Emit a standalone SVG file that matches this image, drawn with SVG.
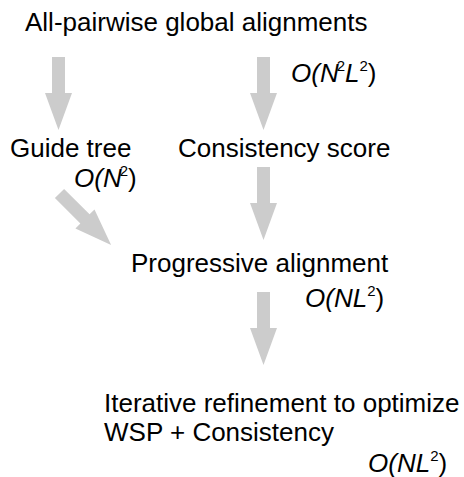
<svg xmlns="http://www.w3.org/2000/svg" width="464" height="477" viewBox="0 0 464 477">
<defs>
<style>
.t{font-family:"Liberation Sans",Arial,Helvetica,sans-serif;font-size:26px;fill:#000}
.c{font-family:"Liberation Sans",Arial,Helvetica,sans-serif;font-size:26px;font-style:italic;fill:#000}
.s{font-size:15px;font-style:normal}
.arrow{fill:#cccccc}
</style>
<path id="arr" d="M-6.5,0 H6.5 V36 H13.5 L0,73 L-13.5,36 H-6.5 Z"/>
</defs>
<rect width="464" height="477" fill="#fff"/>
<g id="connectors">
<use href="#arr" class="arrow" transform="translate(58.5,57)"/>
<use href="#arr" class="arrow" transform="translate(263.5,57)"/>
<use href="#arr" class="arrow" transform="translate(59.5,193.5) rotate(-45)"/>
<use href="#arr" class="arrow" transform="translate(263.5,167)"/>
<use href="#arr" class="arrow" transform="translate(263.5,292)"/>
</g>
<g id="n-allpairwise">
<text class="t" x="25" y="31">All-pairwise global alignments</text>
<text class="c" x="291" y="82">O(N<tspan class="s" dy="-11" dx="-2">2</tspan><tspan dy="11">L</tspan><tspan class="s" dy="-11">2</tspan><tspan dy="11" font-style="normal">)</tspan></text>
</g>
<g id="n-guidetree">
<text class="t" x="10" y="157">Guide tree</text>
<text class="c" x="74" y="187">O(N<tspan class="s" dy="-11" dx="-2">2</tspan><tspan dy="11" font-style="normal">)</tspan></text>
</g>
<g id="n-consistency">
<text class="t" x="178" y="157">Consistency score</text>
</g>
<g id="n-progressive">
<text class="t" x="131" y="272">Progressive alignment</text>
<text class="c" x="305" y="307">O(NL<tspan class="s" dy="-11">2</tspan><tspan dy="11" font-style="normal">)</tspan></text>
</g>
<g id="n-iterative">
<text class="t" x="104" y="412">Iterative refinement to optimize</text>
<text class="t" x="104" y="441">WSP + Consistency</text>
<text class="c" x="368" y="472">O(NL<tspan class="s" dy="-11">2</tspan><tspan dy="11" font-style="normal">)</tspan></text>
</g>
</svg>
